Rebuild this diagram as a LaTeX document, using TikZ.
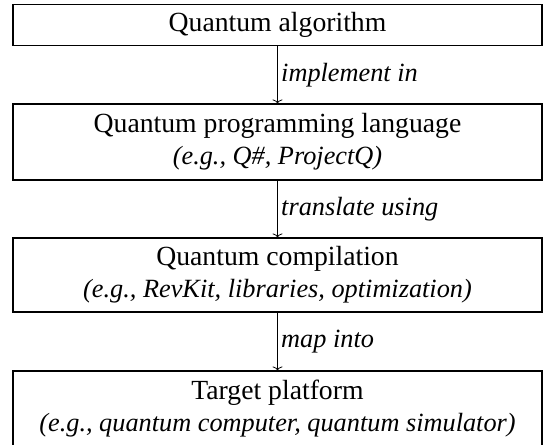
\documentclass[tikz,border=0pt]{standalone}
\usepackage{fontspec}
\setmainfont{Liberation Serif}
\usetikzlibrary{arrows.meta}

\newcommand{\examples}[1]{{\fontsize{26.4}{32}\selectfont\itshape #1}}

\begin{document}
\begin{tikzpicture}[x=1bp,y=1bp,
    stage/.style={
% The shape:
rectangle,
% The size:
minimum width=529bp,
minimum height=#1,
% The text:
align=center,
font=\fontsize{27.8}{32}\selectfont,
% The border:
draw, line width=1.1pt,
},
    step label/.style={
right,
font=\fontsize{26.4}{32}\selectfont\itshape,
},
    >={To[length=4bp,width=10bp]},
]
  \useasboundingbox (0,0) rectangle (544,445);

  \node[stage=41bp] (algo)    at (277.5, 419.7) {Quantum algorithm};
  \node[stage=76bp] (lang)    at (277.5, 303)   {Quantum programming language\\ \examples{(e.g., Q\#, ProjectQ)}};
  \node[stage=74bp] (compile) at (277.5, 170)   {Quantum compilation\\ \examples{(e.g., RevKit, libraries, optimization)}};
  \node[stage=75bp] (target)  at (277.5, 36.5)  {Target platform\\ \examples{(e.g., quantum computer, quantum simulator)}};

  \draw[->, line width=0.8pt] (algo)    -> node[step label] {implement in}    (lang);
  \draw[->, line width=0.8pt] (lang)    -> node[step label] {translate using} (compile);
  \draw[->, line width=0.8pt] (compile) -> node[step label] {map into}        (target);
\end{tikzpicture}
\end{document}
